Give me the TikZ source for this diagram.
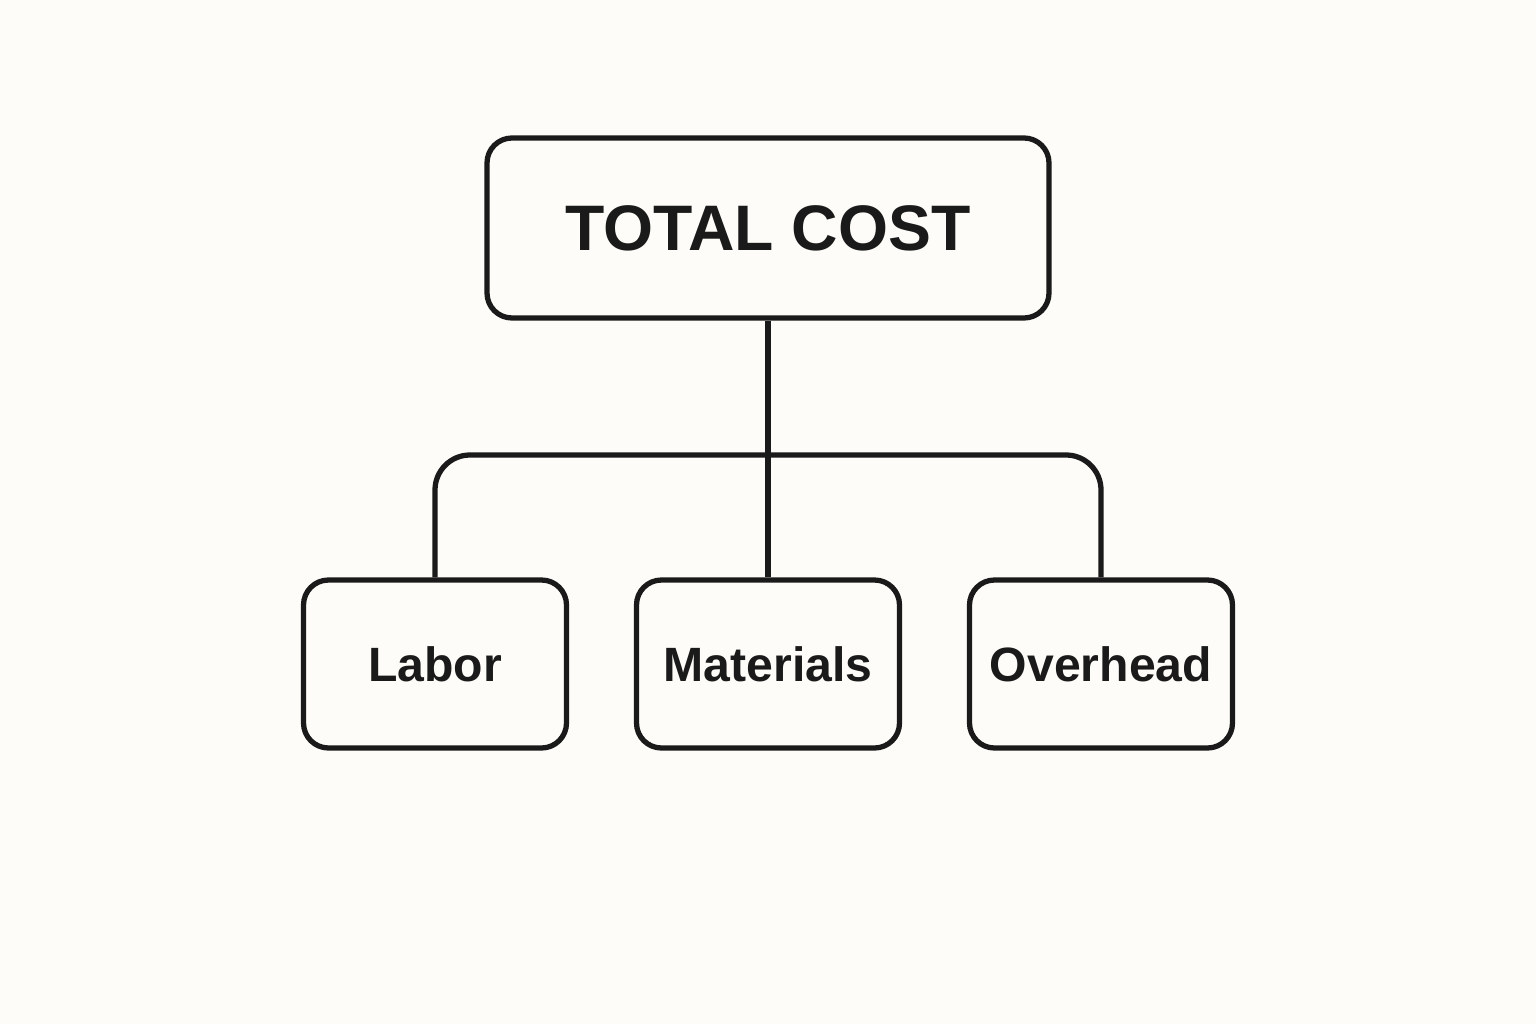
\documentclass[tikz,border=0pt]{standalone}
\usepackage{fontspec}
\setmainfont{Liberation Sans}
\usetikzlibrary{positioning}
\definecolor{paper}{HTML}{FDFCF8}
\definecolor{ink}{HTML}{1A1A1A}
\tikzset{
    costbox/.style={draw=ink, line width=1.5pt, rounded corners=0.25cm, align=center, inner sep=0pt, text=ink},
    topbox/.style={costbox, minimum width=5.62cm, minimum height=1.80cm, font=\fontsize{18.3}{22}\selectfont\bfseries},
    partbox/.style={costbox, minimum width=2.63cm, minimum height=1.68cm, font=\fontsize{13.7}{16}\selectfont\bfseries},
    branch/.style={draw=ink, line width=1.5pt, rounded corners=0.35cm},
}
\begin{document}
\begin{tikzpicture}
        %background and page size
        \fill[paper] (0, 0) rectangle (15.36, 10.24);
        \useasboundingbox (0, 0) rectangle (15.36, 10.24);
        %draw boxes
        \node[topbox] (total) at (7.68, 7.96) {TOTAL COST};
        \node[partbox] (labor) at (4.35, 3.60) {Labor};
        \node[partbox] (materials) at (7.68, 3.60) {Materials};
        \node[partbox] (overhead) at (11.01, 3.60) {Overhead};
        %junction of the branches
        \coordinate (fork) at (7.68, 5.69);
        %draw connectors
        \draw[branch] (total.south) -- (materials.north);
        \draw[branch] (labor.north) |- (fork) -| (overhead.north);
    \end{tikzpicture}
\end{document}
